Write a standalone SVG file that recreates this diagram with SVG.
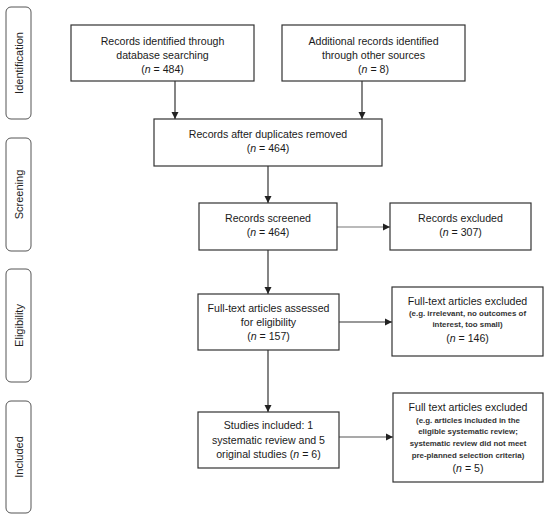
<svg xmlns="http://www.w3.org/2000/svg" width="550" height="518" viewBox="0 0 550 518">
<defs>
<style>
.box{fill:#fff;stroke:#333;stroke-width:1.2}
.side{fill:#fff;stroke:#555;stroke-width:1}
.t{font-family:"Liberation Sans",Arial,sans-serif;font-size:10.6px;fill:#1a1a1a;text-anchor:middle}
.s{font-family:"Liberation Sans",Arial,sans-serif;font-size:7.9px;font-weight:bold;fill:#333;text-anchor:middle}
.lab{font-family:"Liberation Sans",Arial,sans-serif;font-size:11px;fill:#222;text-anchor:middle}
.c{stroke:#333;stroke-width:1.2;fill:none;marker-end:url(#ah)}
</style>
<marker id="ah" markerWidth="8" markerHeight="8" refX="7" refY="4" orient="auto" markerUnits="userSpaceOnUse">
<path d="M0,0.5 L7,4 L0,7.5 Z" fill="#222"/>
</marker>
</defs>
<g id="stage-identification"><rect class="side" x="6" y="7" width="25" height="112" rx="5"/><text class="lab" transform="translate(22.5,63) rotate(-90)">Identification</text></g>
<g id="stage-screening"><rect class="side" x="6" y="138" width="25" height="113" rx="5"/><text class="lab" transform="translate(22.5,194.5) rotate(-90)">Screening</text></g>
<g id="stage-eligibility"><rect class="side" x="6" y="269" width="25" height="113" rx="5"/><text class="lab" transform="translate(22.5,325.5) rotate(-90)">Eligibility</text></g>
<g id="stage-included"><rect class="side" x="6" y="401" width="25" height="112" rx="5"/><text class="lab" transform="translate(22.5,457) rotate(-90)">Included</text></g>

<g id="connectors">
<line class="c" x1="175" y1="81" x2="175" y2="119"/>
<line class="c" x1="362" y1="81" x2="362" y2="119"/>
<line class="c" x1="268" y1="166" x2="268" y2="203"/>
<line class="c" x1="337" y1="227" x2="390" y2="227" style="stroke:#777"/>
<line class="c" x1="268" y1="250" x2="268" y2="294"/>
<line class="c" x1="339" y1="322" x2="392" y2="322"/>
<line class="c" x1="268" y1="350" x2="268" y2="412"/>
<line class="c" x1="339" y1="437" x2="393" y2="437" style="stroke:#555"/>
</g>

<g id="n-db"><rect class="box" x="71" y="25" width="183" height="56"/>
<text class="t" x="162.5" y="45">Records identified through</text>
<text class="t" x="162.5" y="59">database searching</text>
<text class="t" x="162.5" y="73">(<tspan font-style="italic">n</tspan> = 484)</text></g>

<g id="n-other"><rect class="box" x="282" y="25" width="183" height="56"/>
<text class="t" x="373.5" y="45">Additional records identified</text>
<text class="t" x="373.5" y="59">through other sources</text>
<text class="t" x="373.5" y="73">(<tspan font-style="italic">n</tspan> = 8)</text></g>

<g id="n-dup"><rect class="box" x="154" y="119" width="228" height="47"/>
<text class="t" x="268" y="138">Records after duplicates removed</text>
<text class="t" x="268" y="152">(<tspan font-style="italic">n</tspan> = 464)</text></g>

<g id="n-screened"><rect class="box" x="199" y="203" width="138" height="47"/>
<text class="t" x="268" y="222">Records screened</text>
<text class="t" x="268" y="236">(<tspan font-style="italic">n</tspan> = 464)</text></g>

<g id="n-excl1"><rect class="box" x="390" y="203" width="141" height="47"/>
<text class="t" x="460.5" y="222">Records excluded</text>
<text class="t" x="460.5" y="236">(<tspan font-style="italic">n</tspan> = 307)</text></g>

<g id="n-fulltext"><rect class="box" x="198" y="294" width="141" height="56"/>
<text class="t" x="268.5" y="312">Full-text articles assessed</text>
<text class="t" x="268.5" y="326">for eligibility</text>
<text class="t" x="268.5" y="340">(<tspan font-style="italic">n</tspan> = 157)</text></g>

<g id="n-excl2"><rect class="box" x="392" y="287" width="151" height="69"/>
<text class="t" x="467.5" y="305">Full-text articles excluded</text>
<text class="s" x="467.5" y="316">(e.g. irrelevant, no outcomes of</text>
<text class="s" x="467.5" y="327">interest, too small)</text>
<text class="t" x="467.5" y="342">(<tspan font-style="italic">n</tspan> = 146)</text></g>

<g id="n-included"><rect class="box" x="198" y="412" width="141" height="56"/>
<text class="t" x="268.5" y="429">Studies included: 1</text>
<text class="t" x="268.5" y="444">systematic review and 5</text>
<text class="t" x="268.5" y="458">original studies (<tspan font-style="italic">n</tspan> = 6)</text></g>

<g id="n-excl3"><rect class="box" x="393" y="393" width="150" height="89"/>
<text class="t" x="468" y="411">Full text articles excluded</text>
<text class="s" x="468" y="423">(e.g. articles included in the</text>
<text class="s" x="468" y="434">eligible systematic review;</text>
<text class="s" x="468" y="446">systematic review did not meet</text>
<text class="s" x="468" y="458">pre-planned selection criteria)</text>
<text class="t" x="468" y="472">(<tspan font-style="italic">n</tspan> = 5)</text></g>
</svg>
